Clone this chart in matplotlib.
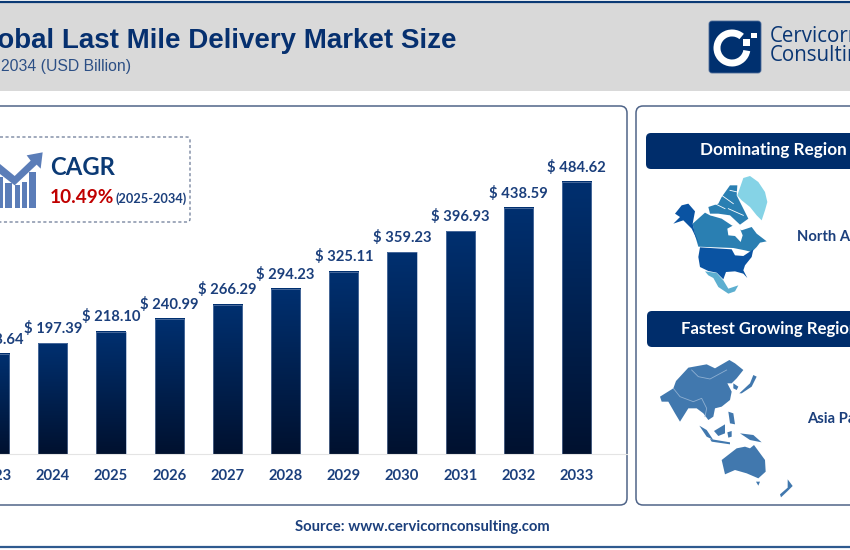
import numpy as np
import matplotlib
matplotlib.use("Agg")
import matplotlib.pyplot as plt
from matplotlib.colors import LinearSegmentedColormap
from matplotlib.patches import FancyBboxPatch, Polygon, Rectangle, Wedge

years = ['2023', '2024', '2025', '2026', '2027', '2028', '2029', '2030', '2031', '2032', '2033']
market_size = [178.64, 197.39, 218.10, 240.99, 266.29, 294.23, 325.11, 359.23, 396.93, 438.59, 484.62]

title = 'Global Last Mile Delivery Market Size'
subtitle = '2034 (USD Billion)'
source = 'Source: www.cervicornconsulting.com'

NAVY = '#002d6b'
TEXT_BLUE = '#1b3f7c'
LABEL_FONT = ['Lato', 'DejaVu Sans']

W, H = 850, 550
fig = plt.figure(figsize=(W/100, H/100), dpi=100, facecolor='white')

# background layer in pixel coordinates
bg = fig.add_axes([0, 0, 1, 1], zorder=0)
bg.set_xlim(0, W)
bg.set_ylim(H, 0)
bg.axis('off')


def panel(x0, y0, x1, y1, r, **kw):
    bg.add_patch(FancyBboxPatch((x0 + r, y0 + r), x1 - x0 - 2*r, y1 - y0 - 2*r,
                                boxstyle='round,pad=%g,rounding_size=%g' % (r, r), **kw))


def zoom_poly(pts, ox, oy, **kw):
    xy = [(ox + a/3, oy + b/3) for a, b in pts]
    bg.add_patch(Polygon(xy, closed=True, lw=0, **kw))


def zoom_line(pts, ox, oy, **kw):
    bg.plot([ox + a/3 for a, b in pts], [oy + b/3 for a, b in pts], **kw)


# header
bg.add_patch(Rectangle((0, 3), W, 88, fc='#d9d9d9', lw=0))
bg.plot([0, W], [1.5, 1.5], color='#0b3a75', lw=1.6)
bg.text(457, 40.5, title, ha='right', va='center', fontsize=20, fontweight='bold',
        family='Liberation Sans', color='#06306f')
bg.text(131, 67, subtitle, ha='right', va='center', fontsize=11.3,
        family='Liberation Sans', color='#2c4f85')

# logo
panel(709, 21, 761, 73, 3, fc='#00306f', ec='#4a6a98', lw=0.6)
bg.add_patch(Wedge((732, 48), 18.5, 10, 310, width=7, fc='white', lw=0, zorder=3))
bg.add_patch(Rectangle((743, 39), 7, 7, fc='white', lw=0, zorder=3))
bg.add_patch(Rectangle((751, 33), 6, 5, fc='white', lw=0, zorder=3))
bg.text(770, 36, 'Cervicorn', va='center', fontsize=14.8, family='Open Sans', color='#0a3673')
bg.text(770, 56, 'Consulting', va='center', fontsize=14.8, family='Open Sans', color='#0a3673')

# panels
panel(-20, 106, 627, 505, 7, fc='white', ec='#4f6488', lw=1.1)
panel(636, 106, 880, 505, 7, fc='white', ec='#4f6488', lw=1.1)

# footer
bg.text(422, 527.5, source, ha='center', va='center', fontsize=10.75, fontweight='bold',
        family=LABEL_FONT, color=TEXT_BLUE)
bg.plot([0, W], [547, 547], color='#2f5a8f', lw=1.6)

# CAGR box and icon
panel(-20, 137, 190, 222, 3, fc='white', ec='#6b7a96', lw=0.9, ls=(0, (2.5, 2)))
for a, b, c in [(0, 8, 112), (15, 35, 130), (45, 60, 135), (65, 80, 125), (88, 107, 95)]:
    bg.add_patch(Rectangle((a/3, 140 + c/3), (b - a)/3, (205 - c)/3, fc='#5b7db8', lw=0))
zoom_poly([(0, 72), (44, 108), (92, 62), (80, 46), (128, 37), (122, 86), (110, 74),
           (44, 136), (0, 102)], 0, 140, fc='#5b7db8', ec='white', zorder=3)
bg.text(50, 167.5, 'CAGR', va='center', fontsize=17.2, fontweight='bold', family=LABEL_FONT, color='#0b3a75')
bg.text(50, 197.5, '10.49%', va='center', fontsize=13.7, fontweight='bold', family=LABEL_FONT, color='#c00000')
bg.text(116, 199, '(2025-2034)', va='center', fontsize=9.2, fontweight='bold', family=LABEL_FONT, color=TEXT_BLUE)

# region headers
panel(646, 133, 880, 169, 5, fc=NAVY, lw=0)
panel(647, 311, 880, 347, 5, fc=NAVY, lw=0)
bg.text(700, 150.5, 'Dominating Region', va='center', fontsize=12.3, fontweight='bold', family=LABEL_FONT, color='white')
bg.text(681, 329, 'Fastest Growing Region', va='center', fontsize=12.1, fontweight='bold', family=LABEL_FONT, color='white')
bg.text(797, 237, 'North America', va='center', fontsize=10.6, fontweight='bold', family=LABEL_FONT, color=TEXT_BLUE)
bg.text(807, 419, 'Asia Pacific', va='center', fontsize=10.6, fontweight='bold', family=LABEL_FONT, color=TEXT_BLUE)

# north america map
NA_X, NA_Y = 650, 172
zoom_poly([(262, 70), (280, 18), (300, 12), (325, 30), (345, 60), (352, 90), (345, 115), (335, 145),
           (320, 130), (300, 105), (275, 85)], NA_X, NA_Y, fc='#85d3e6')
zoom_poly([(175, 105), (205, 95), (215, 75), (240, 40), (262, 40), (260, 70), (275, 100), (295, 140),
           (270, 158), (240, 130), (205, 125), (180, 125)], NA_X, NA_Y, fc='#2a7fb2')
for seg in ([(195, 95), (225, 110)], [(215, 70), (250, 95)], [(235, 110), (280, 130)], [(240, 55), (262, 60)],
            [(180, 128), (240, 135)]):
    zoom_line(seg, NA_X, NA_Y, color='white', lw=0.6)
zoom_poly([(128, 155), (165, 122), (180, 130), (215, 140), (245, 160), (275, 175), (305, 165), (320, 185),
           (350, 208), (330, 212), (320, 225), (305, 240), (285, 235), (250, 228), (145, 224), (135, 190)],
          NA_X, NA_Y, fc='#2a7fb2')
zoom_poly([(232, 170), (250, 160), (268, 165), (278, 190), (272, 210), (255, 192), (235, 190)],
          NA_X, NA_Y, fc='white')
zoom_poly([(75, 125), (95, 100), (115, 95), (135, 118), (128, 155), (135, 185), (150, 222), (125, 170),
           (100, 145), (70, 155), (90, 135)], NA_X, NA_Y, fc='#0a53a2')
zoom_poly([(150, 226), (245, 232), (255, 250), (280, 252), (310, 232), (305, 255), (285, 280), (280, 295),
           (292, 318), (280, 305), (255, 298), (228, 300), (220, 322), (200, 302), (175, 297), (150, 285),
           (145, 255)], NA_X, NA_Y, fc='#0a53a2')
zoom_poly([(165, 298), (200, 303), (220, 325), (235, 350), (265, 340), (255, 358), (235, 365), (205, 345),
           (190, 318), (175, 310)], NA_X, NA_Y, fc='#5dafd0')

# asia pacific map
AP_X, AP_Y = 650, 355
ap_shapes = [
    [(30, 125), (70, 100), (78, 78), (115, 38), (170, 28), (195, 40), (238, 15), (255, 25), (280, 45),
     (260, 70), (245, 85), (232, 85), (245, 110), (240, 135), (215, 155), (195, 160), (190, 185), (175, 195),
     (160, 175), (140, 160), (115, 160), (90, 200), (75, 175), (55, 140), (35, 140)],
    [(268, 115), (300, 85), (310, 60), (320, 65), (305, 95), (275, 115)],
    [(250, 85), (265, 95), (260, 105), (250, 100)],
    [(148, 212), (170, 225), (190, 255), (170, 245)],
    [(180, 252), (240, 262), (240, 268), (185, 260)],
    [(192, 228), (225, 208), (225, 235), (205, 243)],
    [(232, 232), (245, 228), (245, 245), (235, 248)],
    [(270, 235), (310, 240), (335, 262), (300, 255)],
    [(235, 170), (250, 175), (255, 208), (240, 205)],
    [(215, 315), (260, 280), (285, 275), (300, 280), (312, 270), (345, 315), (347, 350), (325, 370),
     (290, 355), (255, 345), (225, 358)],
    [(318, 380), (330, 380), (325, 392)],
    [(413, 373), (428, 393), (413, 408), (393, 427), (390, 418), (413, 398)],
]
for s in ap_shapes:
    zoom_poly(s, AP_X, AP_Y, fc='#4178ae')
zoom_line([(125, 45), (145, 65), (180, 72), (230, 45)], AP_X, AP_Y, color='#8fb0d2', lw=0.6)
zoom_line([(70, 100), (90, 125), (130, 140), (155, 130), (170, 160), (165, 185)], AP_X, AP_Y,
          color='#8fb0d2', lw=0.6)

# bar chart, axes starts off the left edge so the cut 2023 bar and tick still draw
ax = fig.add_axes([-40/W, (H - 454)/H, 667/W, 334/H], zorder=1)
ax.patch.set_alpha(0)
x = np.arange(len(years))

grad = LinearSegmentedColormap.from_list('bar', ['#00112f', '#003070'])
g = np.linspace(0, 1, 256).reshape(-1, 1)
bars = ax.bar(x, market_size, width=0.5, color='none', edgecolor='#7f97bd', lw=0.4, zorder=3)
for rect, v in zip(bars, market_size):
    ax.imshow(g, origin='lower', aspect='auto', cmap=grad, zorder=2,
              extent=(rect.get_x(), rect.get_x() + rect.get_width(), 0, v))
    ax.annotate('$ %.2f' % v, (rect.get_x() + rect.get_width()/2, v), xytext=(0, 10.5),
                textcoords='offset points', ha='center', va='center', fontsize=10.6,
                fontweight='bold', family=LABEL_FONT, color=TEXT_BLUE, annotation_clip=False)

ax.set_xticks(x)
ax.set_xticklabels(years, fontsize=10.6, fontweight='bold', family=LABEL_FONT, color=TEXT_BLUE)
ax.tick_params(axis='x', length=0, pad=11)
ax.set_yticks([])
# limits go last, set_xticks widens them otherwise
ax.set_xlim(-34.6/58.2, 632.4/58.2)
ax.set_ylim(0, 334/0.5613)
for sp in ['top', 'left', 'right']:
    ax.spines[sp].set_visible(False)
ax.spines['bottom'].set_color('#e4e4e4')

fig.savefig('out.png', dpi=100)
